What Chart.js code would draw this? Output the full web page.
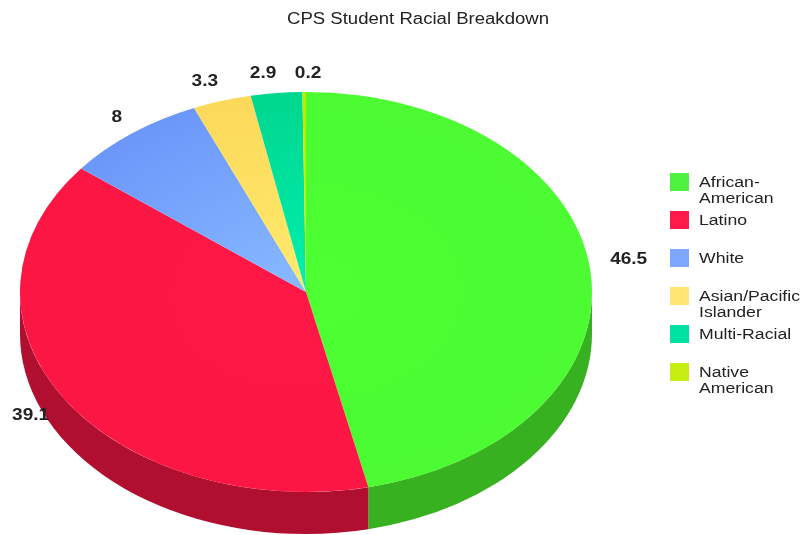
<!DOCTYPE html>
<html>
<head>
<meta charset="utf-8">
<script src="https://cdn.jsdelivr.net/npm/chart.js@4/dist/chart.umd.min.js"></script>
<style>
html,body{margin:0;padding:0;background:#fff;}
#wrap{width:809px;height:535px;position:relative;}
</style>
</head>
<body>
<div id="wrap"><canvas id="c" width="809" height="535"></canvas></div>
<script>
const categories = ["African-American", "Latino", "White", "Asian/Pacific Islander", "Multi-Racial", "Native American"];
const legendLines = [["African-", "American"], ["Latino"], ["White"], ["Asian/Pacific", "Islander"], ["Multi-Racial"], ["Native", "American"]];
const values = [46.5, 39.1, 8, 3.3, 2.9, 0.2];
const valueLabels = ["46.5", "39.1", "8", "3.3", "2.9", "0.2"];
const innerColors = ["#4dff33", "#ff1846", "#88baff", "#ffea6c", "#00f0b0", "#c8f400"];
const outerColors = ["#4cfb32", "#fb1644", "#6c97fa", "#fcd95a", "#00d68e", "#bcea00"];
const sideColors = ["#38b121", "#b00f30", "#4f72b8", "#b09a3e", "#009a6a", "#86a600"];
const legendColors = ["#50f240", "#ff1a4a", "#7ea8ff", "#ffe672", "#00e2a2", "#c6ee10"];
const titleText = "CPS Student Racial Breakdown";

// target ellipse geometry (screen pixels)
const CX = 306, CY = 292, RX = 286, RY = 200, DEPTH = 42;

function drawStretched(ctx, text, x, y, sx) {
  ctx.save();
  ctx.translate(x, y);
  ctx.scale(sx, 1);
  ctx.fillText(text, 0, 0);
  ctx.restore();
}

const threeD = {
  id: 'threeD',
  beforeDatasetsDraw(chart) {
    const ctx = chart.ctx;
    const meta = chart.getDatasetMeta(0);
    const first = meta.data[0].getProps(['x', 'y', 'outerRadius'], true);
    meta.data.forEach((el, i) => {
      const p = el.getProps(['startAngle', 'endAngle'], true);
      for (const k of [-2 * Math.PI, 0, 2 * Math.PI]) {
        const lo = Math.max(p.startAngle, k);
        const hi = Math.min(p.endAngle, k + Math.PI);
        if (hi > lo) {
          ctx.save();
          ctx.beginPath();
          ctx.ellipse(CX, CY, RX, RY, 0, lo, hi, false);
          ctx.lineTo(CX + RX * Math.cos(hi), CY + DEPTH + RY * Math.sin(hi));
          ctx.ellipse(CX, CY + DEPTH, RX, RY, 0, hi, lo, true);
          ctx.closePath();
          ctx.fillStyle = sideColors[i];
          ctx.fill();
          ctx.restore();
        }
      }
    });
    ctx.save();
    ctx.translate(CX, CY);
    ctx.scale(RX / first.outerRadius, RY / first.outerRadius);
    ctx.translate(-first.x, -first.y);
  },
  afterDatasetsDraw(chart) {
    const ctx = chart.ctx;
    ctx.restore();
    const meta = chart.getDatasetMeta(0);
    ctx.save();
    ctx.font = 'bold 16px "Liberation Sans", Arial, sans-serif';
    ctx.fillStyle = '#222';
    ctx.textBaseline = 'middle';
    meta.data.forEach((el, i) => {
      const p = el.getProps(['startAngle', 'endAngle'], true);
      const m = (p.startAngle + p.endAngle) / 2;
      const c = Math.cos(m), s = Math.sin(m);
      const off = 20;
      let x = CX + (RX + off) * c;
      let y = CY + (RY + off) * s;
      if (c > 0.1) { ctx.textAlign = 'left'; y -= 8; }
      else if (c < -0.1) { ctx.textAlign = 'right'; x += 2; }
      else { ctx.textAlign = 'center'; x += 4; y += 2; }
      if (s > 0) y += 6;
      drawStretched(ctx, valueLabels[i], x, y, 1.19);
    });
    ctx.restore();
  },
  afterDraw(chart) {
    const ctx = chart.ctx;
    ctx.save();
    // title
    ctx.font = '16px "Liberation Sans", Arial, sans-serif';
    ctx.fillStyle = '#222';
    ctx.textAlign = 'center';
    ctx.textBaseline = 'alphabetic';
    drawStretched(ctx, titleText, 418, 24, 1.16);
    // legend
    ctx.font = '14px "Liberation Sans", Arial, sans-serif';
    ctx.textBaseline = 'middle';
    ctx.textAlign = 'left';
    legendLines.forEach((lines, i) => {
      const yc = 182 + i * 38;
      ctx.fillStyle = legendColors[i];
      ctx.fillRect(670, yc - 9, 19, 18);
      ctx.fillStyle = '#222';
      lines.forEach((t, j) => drawStretched(ctx, t, 699, yc + 1 + j * 16, 1.26));
    });
    ctx.restore();
  }
};

function sliceColor(context) {
  const i = context.dataIndex;
  const a = context.chart.chartArea;
  if (!a) return innerColors[i];
  const cx = (a.left + a.right) / 2, cy = (a.top + a.bottom) / 2;
  const r = Math.min(a.right - a.left, a.bottom - a.top) / 2;
  const g = context.chart.ctx.createRadialGradient(cx, cy, 0, cx, cy, r);
  g.addColorStop(0, innerColors[i]);
  g.addColorStop(1, outerColors[i]);
  return g;
}

new Chart(document.getElementById('c'), {
  type: 'pie',
  data: {
    labels: categories,
    datasets: [{
      data: values,
      backgroundColor: sliceColor,
      borderWidth: 0,
      clip: false
    }]
  },
  options: {
    responsive: false,
    animation: false,
    layout: { padding: { left: 0, right: 0, top: 40, bottom: 0 } },
    plugins: {
      legend: { display: false },
      tooltip: { enabled: false },
      title: { display: false }
    }
  },
  plugins: [threeD]
});
</script>
</body>
</html>
